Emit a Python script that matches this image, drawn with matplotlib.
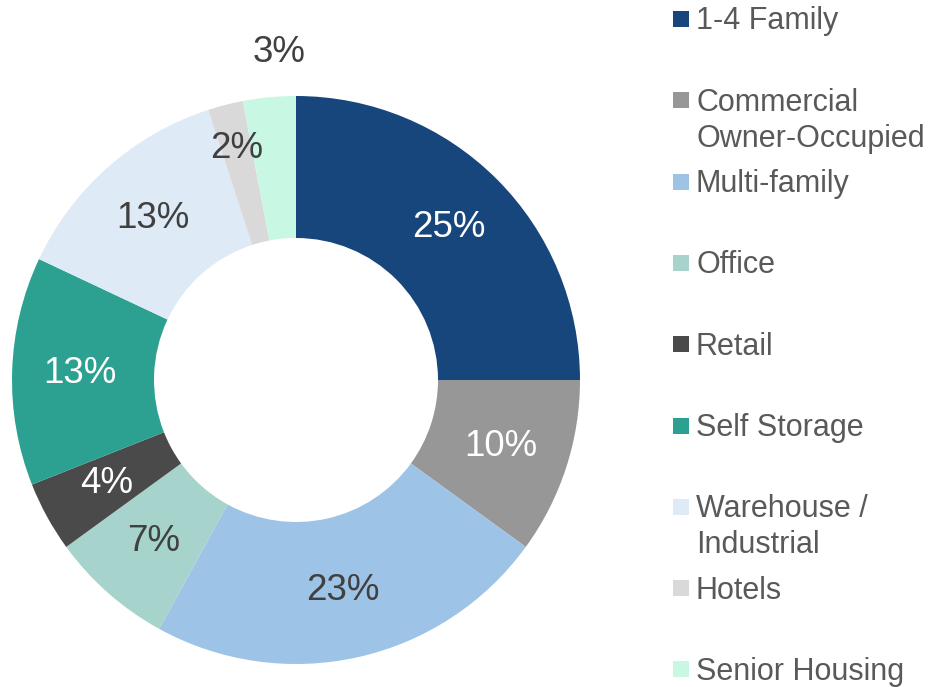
import numpy as np
import matplotlib
matplotlib.use('Agg')
import matplotlib.pyplot as plt
from matplotlib.patches import Rectangle

plt.rcParams['font.family'] = ['Liberation Sans', 'DejaVu Sans']

# loan mix by property type
categories = ['1-4 Family', 'Commercial\nOwner-Occupied', 'Multi-family', 'Office',
              'Retail', 'Self Storage', 'Warehouse /\nIndustrial', 'Hotels',
              'Senior Housing']
shares = [25, 10, 23, 7, 4, 13, 13, 2, 3]
colors = ['#17467C', '#979797', '#9DC3E6', '#A6D3CB', '#4A4A4A',
          '#2CA192', '#DEEAF6', '#D9D9D9', '#C8F8E4']
label_colors = ['white', 'white', '#404040', '#404040', 'white',
                'white', '#404040', '#404040', '#404040']

W, H = 941, 687
fig = plt.figure(figsize=(W / 100, H / 100), dpi=100)

# donut: centre (296, 380) px, outer radius 284 px
cx, cy, r = 296, 380, 284
ax = fig.add_axes([(cx - r) / W, (H - cy - r) / H, 2 * r / W, 2 * r / H])
wedges, _ = ax.pie(shares, colors=colors, startangle=90, counterclock=False,
                   radius=1, wedgeprops=dict(width=0.5, linewidth=0))
ax.set_xlim(-1, 1)
ax.set_ylim(-1, 1)
ax.set_aspect('equal')
ax.axis('off')

# percentage labels inside the ring, last one sits above it
for i, (w, v) in enumerate(zip(wedges, shares)):
    ang = np.deg2rad((w.theta1 + w.theta2) / 2)
    dist = 0.76
    if i == len(shares) - 1:
        dist = 1.16
    elif v < 3:
        dist = 0.84
    x, y = dist * np.cos(ang), dist * np.sin(ang)
    if i == len(shares) - 1:
        x += 0.05
    ax.text(x, y, f'{v}%', ha='center', va='center', fontsize=26.5,
            color=label_colors[i])

# legend on the right, evenly spaced entries
step = 81.3
for i, (name, col) in enumerate(zip(categories, colors)):
    yc = 19 + step * i
    fig.patches.append(Rectangle((673 / W, 1 - (yc + 8) / H), 16 / W, 16 / H,
                                 transform=fig.transFigure, facecolor=col,
                                 edgecolor='none'))
    for j, line in enumerate(name.split('\n')):
        fig.text(696 / W, 1 - (yc + 10.5 + 36 * j) / H, line, ha='left',
                 va='baseline', fontsize=22, color='#595959')

fig.savefig('out.png', dpi=100, facecolor='white')
